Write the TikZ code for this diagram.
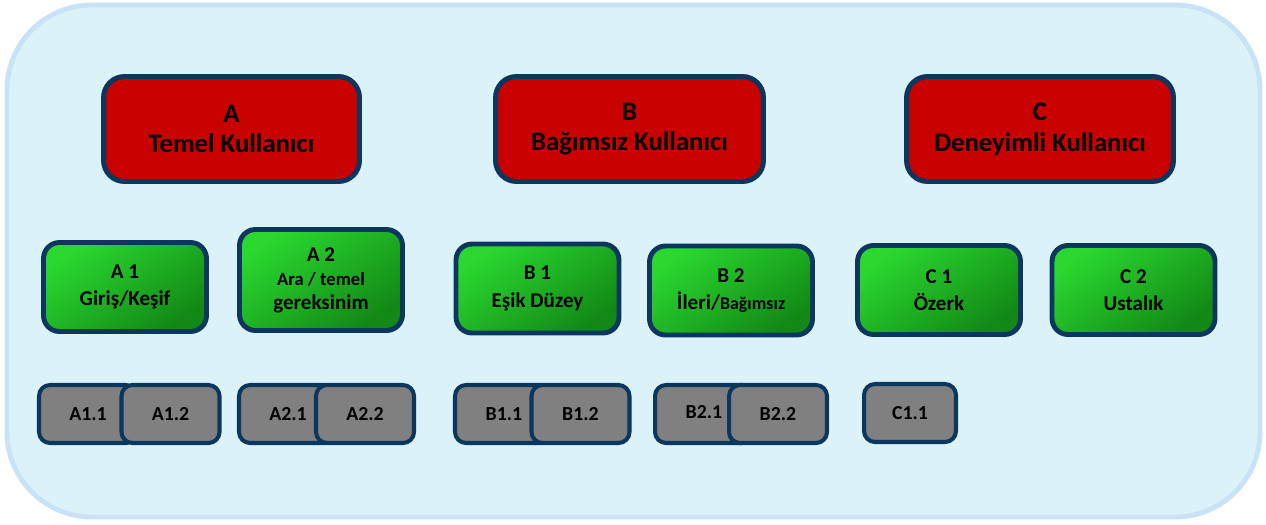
\documentclass[tikz,border=0pt]{standalone}
\usepackage{fontspec}
\setmainfont{Carlito}
\usepackage{color}
\definecolor{navy}{HTML}{0B365E}
\definecolor{bandred}{HTML}{C80000}
\definecolor{stagelight}{HTML}{2AD82F}
\definecolor{stagedark}{HTML}{128816}
\definecolor{subgray}{HTML}{808080}
\definecolor{panelfill}{HTML}{DBF3F8}
\definecolor{panelline}{HTML}{C8E2F8}

\begin{document}
\begin{tikzpicture}
        [x=0.02cm,y=-0.02cm,auto=left]
            \tikzstyle{every node}=[draw=navy, align=center, text=black]
            \tikzstyle{bandbox}=[fill=bandred, line width=2.8pt, rounded corners=0.42cm,
        minimum height=2.1cm, font=\fontsize{15.2}{17.5}\selectfont\bfseries]
            \tikzstyle{stagebox}=[top color=stagelight, bottom color=stagedark, shading angle=35,
        line width=2.8pt, rounded corners=0.32cm, minimum width=3.26cm, minimum height=1.78cm,
        font=\fontsize{12}{15.5}\selectfont\bfseries]
            \tikzstyle{subbox}=[fill=subgray, line width=2.3pt, rounded corners=0.22cm,
        minimum width=1.96cm, minimum height=1.16cm, font=\fontsize{11.3}{13}\selectfont\bfseries]
        \useasboundingbox (0,0) rectangle (1266,524);
        %-----panel
         \draw[line width=2.8pt, draw=panelline, fill=panelfill, rounded corners=1.7cm] (7,5) rectangle (1260,517);
        %-----A B C
         \node[bandbox, minimum width=5.12cm]  (A) at (231.5,129) {A\\Temel Kullanıcı};
         \node[bandbox, minimum width=5.36cm]  (B) at (629.5,129) {B\\Bağımsız Kullanıcı};
         \node[bandbox, minimum width=5.34cm]  (C) at (1040,129) {C\\Deneyimli Kullanıcı};
        %-----stages
         \node[stagebox]  (A1) at (125,287) {A 1\\Giriş/Keşif};
         \node[stagebox, minimum height=2.02cm, font=\fontsize{12}{13.6}\selectfont\bfseries]  (A2) at (321,280)
            {A 2\\{\fontsize{10.6}{13.6}\selectfont Ara / temel}\\gereksinim};
         \node[stagebox]  (B1) at (537.5,288.5) {B 1\\Eşik Düzey};
         \node[stagebox]  (B2) at (731,290.5) {B 2\\İleri/{\fontsize{10.2}{15.5}\selectfont Bağımsız}};
         \node[stagebox]  (C1) at (939,290) {C 1\\Özerk};
         \node[stagebox]  (C2) at (1133.5,290) {C 2\\Ustalık};
        %-----sub levels
         \node[subbox]  (A11) at (88,414) {A1.1};
         \node[subbox]  (A12) at (170.5,414) {A1.2};
         \node[subbox]  (A21) at (288,414) {A2.1};
         \node[subbox]  (A22) at (365,414) {A2.2};
         \node[subbox]  (B11) at (504,414) {B1.1};
         \node[subbox]  (B12) at (580.5,414) {B1.2};
         \node[subbox]  (B21) at (704,414) {\raisebox{2pt}{B2.1}};
         \node[subbox]  (B22) at (778,414) {B2.2};
         \node[subbox, minimum width=1.84cm]  (C11) at (910,413) {C1.1};
        \end{tikzpicture}
\end{document}
